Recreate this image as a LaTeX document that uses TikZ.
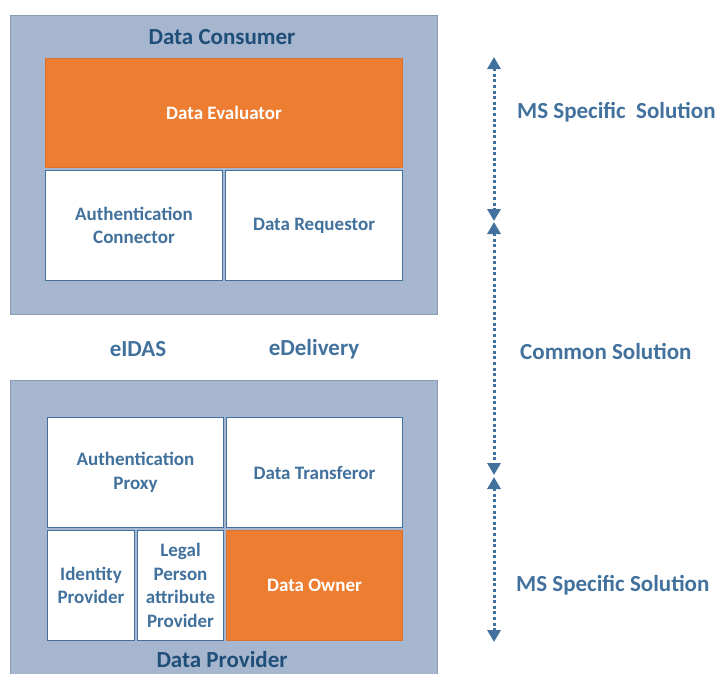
\documentclass[tikz,border=0pt]{standalone}
\usepackage{fontspec}
\setmainfont{Carlito}
\usetikzlibrary{arrows.meta,positioning}
\definecolor{outerfill}{HTML}{A6B6CE}
\definecolor{outerline}{HTML}{8A9BB6}
\definecolor{boxline}{HTML}{41719C}
\definecolor{titleblue}{HTML}{1F4E79}
\definecolor{textblue}{HTML}{41719C}
\definecolor{orangefill}{HTML}{ED7D31}
\begin{document}
\begin{tikzpicture}[x=1pt,y=-1pt,
  group/.style={draw=outerline,line width=1.2pt,fill=outerfill,anchor=north west,inner sep=0pt},
  cell/.style={draw=boxline,line width=1pt,fill=white,anchor=north west,inner sep=0pt,
    align=center,font=\bfseries\fontsize{19}{23.5}\selectfont,text=textblue},
  hot/.style={cell,fill=orangefill,draw=orangefill!80!black!40!orangefill,text=white},
  title/.style={font=\bfseries\fontsize{23}{27}\selectfont,text=titleblue},
  band/.style={font=\bfseries\fontsize{23}{27}\selectfont,text=textblue,anchor=west,inner sep=0pt},
  proto/.style={font=\bfseries\fontsize{23}{27}\selectfont,text=textblue},
  span/.style={draw=textblue,line width=3pt,dash pattern=on 3pt off 2.6pt,
    {Triangle[width=13pt,length=12pt]}-{Triangle[width=13pt,length=12pt]}}]
\useasboundingbox (0,0) rectangle (719,673);

% Data Consumer block
\node[group,minimum width=427pt,minimum height=299pt] (consumer) at (10,15) {};
\node[title] (consumerTitle) at (222,37) {Data Consumer};
\node[hot,minimum width=357pt,minimum height=109pt] (evaluator) at (45,58) {Data Evaluator};
\node[cell,minimum width=177pt,minimum height=110pt] (authconn) at (45,170) {Authentication\\Connector};
\node[cell,minimum width=177pt,minimum height=110pt] (requestor) at (225,170) {Data Requestor};

% Common building blocks
\node[proto] (eidas) at (138,349) {eIDAS};
\node[proto] (edelivery) at (314,349) {eDelivery};

% Data Provider block
\node[group,minimum width=427pt,minimum height=300pt] (provider) at (10,380) {};
\node[title] (providerTitle) at (222,659) {Data Provider};
\node[cell,minimum width=176pt,minimum height=110pt] (authproxy) at (47,417) {Authentication\\Proxy};
\node[cell,minimum width=176pt,minimum height=110pt] (transferor) at (226,417) {Data Transferor};
\node[cell,minimum width=87pt,minimum height=110pt] (idp) at (47,530) {Identity\\Provider};
\node[cell,minimum width=86pt,minimum height=110pt] (legal) at (137,530) {Legal\\Person\\attribute\\Provider};
\node[hot,minimum width=176pt,minimum height=110pt] (owner) at (226,530) {Data Owner};

% Scope markers
\coordinate (s1) at (494,57);
\coordinate (s2) at (494,221);
\coordinate (s3) at (494,222);
\coordinate (s4) at (494,475);
\coordinate (s5) at (494,477);
\coordinate (s6) at (494,642);
\draw[span] (s1) -- (s2);
\draw[span] (s3) -- (s4);
\draw[span] (s5) -- (s6);

\node[band] (msTop) at (517,112) {MS Specific\ \ Solution};
\node[band] (common) at (520,351) {Common Solution};
\node[band] (msBottom) at (516,585) {MS Specific Solution};
\end{tikzpicture}
\end{document}
